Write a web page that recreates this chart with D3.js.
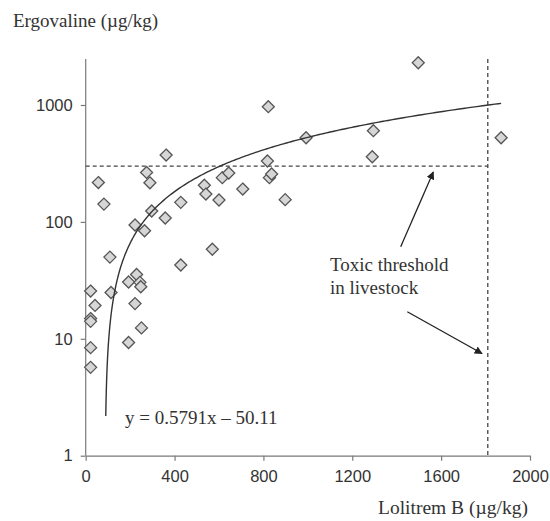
<!DOCTYPE html>
<html>
<head>
<meta charset="utf-8">
<script src="https://cdn.jsdelivr.net/npm/d3@7/dist/d3.min.js"></script>
<style>
  html, body { margin: 0; padding: 0; background: #fff; }
  svg { display: block; }
</style>
</head>
<body>
<svg id="chart" width="550" height="521"></svg>
<script>
// Lolitrem B (x) and ergovaline (y) concentrations per sample, µg/kg
const lolitremB = [
  22, 42, 22, 22, 22, 22, 57, 82, 109, 114,
  193, 193, 222, 229, 244, 248, 251, 222, 265, 274,
  289, 297, 358, 362, 428, 428, 534, 541, 570, 600,
  615, 644, 707, 818, 822, 827, 837, 898, 992, 1290,
  1295, 1497, 1870
];
const ergovaline = [
  25.6, 19.3, 14.9, 14.1, 8.4, 5.7, 217, 142, 50, 24.9,
  9.3, 30.6, 20, 35.5, 30.4, 27.9, 12.4, 94, 84, 265,
  216, 124, 108, 373, 147, 42.8, 206, 173, 58.4, 154,
  239, 262, 191, 332, 967, 239, 257, 155, 525, 361,
  603, 2300, 525
];

// Linear fit y = slope·x + intercept, drawn across this x range
const fitSlope = 0.5791;
const fitIntercept = -50.11;
const fitRange = [90.3, 1870];

// Toxic thresholds in livestock
const ergovalineThreshold = 300;
const lolitremThreshold = 1810;

const xTicks = [0, 400, 800, 1200, 1600, 2000];
const yTicks = [1, 10, 100, 1000];

const svg = d3.select("#chart");
const x = d3.scaleLinear().domain([0, 2000]).range([85.7, 530]);
const y = d3.scaleLog().domain([1, 1000]).range([455.7, 105]);
const yTop = 59;

const axisColor = "#7a7a7a";
const textColor = "#333";

// x axis
const xAxis = svg.append("g")
  .attr("transform", `translate(0,${y(1)})`)
  .call(d3.axisBottom(x).tickValues(xTicks).tickFormat(d3.format("d"))
    .tickSize(5).tickSizeOuter(0).tickPadding(6));
// y axis
const yAxis = svg.append("g")
  .attr("transform", `translate(${x(0)},0)`)
  .call(d3.axisLeft(y).tickValues(yTicks).tickFormat(d3.format("d"))
    .tickSize(5).tickSizeOuter(0).tickPadding(8));
yAxis.select(".domain").attr("d", `M0,${y(1)}V${yTop}`);

[xAxis, yAxis].forEach(g => {
  g.select(".domain").attr("stroke", axisColor).attr("stroke-width", 1.2);
  g.selectAll(".tick line").attr("stroke", axisColor).attr("stroke-width", 1.2);
  g.selectAll(".tick text")
    .attr("fill", textColor)
    .style("font-family", "'Liberation Sans', Arial, sans-serif")
    .style("font-size", "16.5px");
});
xAxis.selectAll(".tick text").attr("dy", "0.95em");

// Threshold lines
svg.append("line")
  .attr("x1", x(0)).attr("x2", x(lolitremThreshold))
  .attr("y1", y(ergovalineThreshold)).attr("y2", y(ergovalineThreshold))
  .attr("stroke", "#444").attr("stroke-width", 1.3)
  .attr("stroke-dasharray", "4,3");
svg.append("line")
  .attr("x1", x(lolitremThreshold)).attr("x2", x(lolitremThreshold))
  .attr("y1", yTop).attr("y2", y(1))
  .attr("stroke", "#444").attr("stroke-width", 1.3)
  .attr("stroke-dasharray", "4,3");

// Data points as diamonds
const points = lolitremB.map((v, i) => ({ lb: v, ev: ergovaline[i] }));
svg.append("g").selectAll("path")
  .data(points)
  .join("path")
  .attr("transform", d => `translate(${x(d.lb)},${y(d.ev)})`)
  .attr("d", "M0,-6L6,0L0,6L-6,0Z")
  .attr("fill", "#d6d6d6")
  .attr("stroke", "#555")
  .attr("stroke-width", 1.3);

// Fitted line, curved on the log axis
const fitX = d3.range(0, 201).map(i => fitRange[0] * Math.pow(fitRange[1] / fitRange[0], i / 200));
const fitLine = d3.line()
  .x(d => x(d))
  .y(d => y(fitSlope * d + fitIntercept))
  .curve(d3.curveMonotoneX);
svg.append("path")
  .datum(fitX)
  .attr("d", fitLine)
  .attr("fill", "none")
  .attr("stroke", "#333")
  .attr("stroke-width", 1.4);

// Arrow markers
svg.append("defs").append("marker")
  .attr("id", "arrowhead")
  .attr("viewBox", "0 0 10 10")
  .attr("refX", 9).attr("refY", 5)
  .attr("markerWidth", 8).attr("markerHeight", 8)
  .attr("markerUnits", "userSpaceOnUse")
  .attr("orient", "auto")
  .append("path")
  .attr("d", "M0,0L10,5L0,10Z")
  .attr("fill", "#222");

const serif = "'Liberation Serif', 'Times New Roman', serif";

// Annotation arrows point at the two thresholds
svg.append("line")
  .attr("x1", 400.7).attr("y1", 246.7)
  .attr("x2", 433.3).attr("y2", 172)
  .attr("stroke", "#222").attr("stroke-width", 1.3)
  .attr("marker-end", "url(#arrowhead)");
svg.append("line")
  .attr("x1", 407.3).attr("y1", 311.7)
  .attr("x2", 482).attr("y2", 353.5)
  .attr("stroke", "#222").attr("stroke-width", 1.3)
  .attr("marker-end", "url(#arrowhead)");

// Texts
const label = (t, px, py, size, anchor) => svg.append("text")
  .attr("x", px).attr("y", py)
  .attr("text-anchor", anchor || "start")
  .attr("fill", textColor)
  .style("font-family", serif)
  .style("font-size", size + "px")
  .text(t);

label("Toxic threshold", 330, 271, 19);
label("in livestock", 330, 293.5, 19);
label("y = 0.5791x \u2013 50.11", 125, 424, 19);
label("Ergovaline (\u00b5g/kg)", 13, 27, 19);
label("Lolitrem B (\u00b5g/kg)", 378, 514, 19.5);
</script>
</body>
</html>
